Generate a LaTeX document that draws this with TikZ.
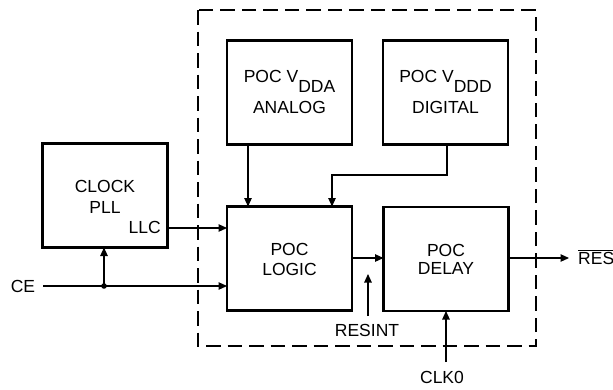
\documentclass[tikz,border=0pt]{standalone}
\usepackage{fontspec}
\setmainfont{Liberation Sans}
\usetikzlibrary{arrows.meta}
\begin{document}
\begin{tikzpicture}[x=1pt,y=-1pt,
  blk/.style={draw,line width=2.5pt,minimum width=125pt,minimum height=104pt,inner sep=0pt,outer sep=0pt},
  txt/.style={font=\fontsize{17.5}{21}\selectfont,inner sep=0pt,anchor=base},
  arr/.style={line width=1.1pt,-{Triangle[length=8.5pt,width=7.5pt]}},
  dbox/.style={line width=2.2pt,dash pattern=on 14.5pt off 7pt}]
\useasboundingbox (0,0) rectangle (613,389);
% dashed enclosure
\draw[dbox] (198,10) rectangle (536,346);
% blocks
\node[blk] (clk) at (105,195.5) {};
\node[blk] (vdda) at (289.5,92.5) {};
\node[blk] (vddd) at (445.5,92.5) {};
\node[blk] (logic) at (289.5,258.5) {};
\node[blk] (delay) at (446,259) {};
% texts
\node[txt] (t1) at (105,192) {CLOCK};
\node[txt] (t2) at (105,213) {PLL};
\node[txt,anchor=base east] (llc) at (161,233) {LLC};
\node[txt] (t3) at (289.5,82) {POC V\raisebox{-10pt}{DDA}};
\node[txt] (t4) at (289.5,113) {ANALOG};
\node[txt] (t5) at (445.5,82) {POC V\raisebox{-10pt}{DDD}};
\node[txt] (t6) at (445.5,113) {DIGITAL};
\node[txt] (t7) at (289.5,255) {POC};
\node[txt] (t8) at (289.5,275) {LOGIC};
\node[txt] (t9) at (446,256) {POC};
\node[txt] (t10) at (446,274) {DELAY};
\node[txt] (ce) at (23,292) {CE};
\node[txt] (resint) at (367,336) {RESINT};
\node[txt] (clk0) at (442,383) {CLK0};
\node[txt,anchor=base west] (res) at (578,264) {$\overline{\mbox{RES}}$};
% coordinates
\coordinate (ceS) at (43,286);
\coordinate (dot) at (104,286);
\coordinate (riS) at (368,316);
\coordinate (riE) at (368,274);
\coordinate (c0S) at (446,362);
\coordinate (resE) at (569,258);
% connectors
\draw[arr] (clk.east |- 0,228) -- (logic.west |- 0,228);
\draw[arr] (ceS) -- (logic.west |- ceS);
\draw[arr] (dot) -- (dot |- clk.south);
\fill (dot) circle (2.8pt);
\draw[arr] (vdda.south -| 248,0) -- (logic.north -| 248,0);
\draw[arr] (vddd.south -| 447,0) |- (332,175) -- (logic.north -| 332,0);
\draw[arr] (logic.east |- 0,258) -- (delay.west |- 0,258);
\draw[arr] (riS) -- (riE);
\draw[arr] (c0S) -- (delay.south -| c0S);
\draw[arr] (delay.east |- resE) -- (resE);
\end{tikzpicture}
\end{document}
